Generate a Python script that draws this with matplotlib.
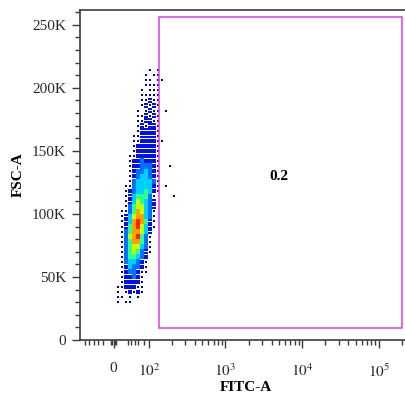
import numpy as np
import matplotlib
matplotlib.use("Agg")
import matplotlib.pyplot as plt
from matplotlib.colors import ListedColormap, BoundaryNorm

plt.rcParams['font.family'] = ['Liberation Serif', 'DejaVu Serif']
plt.rcParams['mathtext.fontset'] = 'stix'

# Event density: one row per 4K of FSC-A (top = 216K),
# one column per equal step of the FITC-A display scale; '.' = no events,
# 1 = sparse, 2 = dense blue ... 8 = red core
density_rows = [
    ".............1.1....",
    "............1.11....",
    "............11.11...",
    "............1111....",
    "...........1.111....",
    "...........11111....",
    "...........11211....",
    "...........12121....",
    "..........1.1211.1..",
    "..........112121....",
    "..........112211....",
    "..........121221....",
    "..........122221....",
    ".........1122221....",
    ".........11222211...",
    ".........1222221....",
    ".........1222221....",
    "........11222221....",
    "........12232221....",
    "........12233321..1.",
    "........12334321....",
    "........12344321....",
    "........13444431....",
    ".......113444421.1..",
    ".......123445421....",
    ".......12455531....1",
    ".......12465432.....",
    ".......13566432.....",
    "......113576431.....",
    "......124677431.....",
    "......124787521.....",
    "......125786421.....",
    "......13577642......",
    "......13678531......",
    "......13577531......",
    "......13566431......",
    "......13565321......",
    "......1355432.......",
    "......1344321.......",
    "......1243321.......",
    "......1233211.......",
    "......122321........",
    "......122221........",
    ".....1122211........",
    ".....1.12121........",
    ".....11.1.1.........",
    ".....1.11...........",
]
fsc_top = 216000      # upper edge of first density row
fsc_step = 4000
fitc_lo, fitc_hi = -50, 226   # FITC-A span of the density columns

level_colors = ['#0000b4', '#0010f0', '#0070ff', '#00d0ff', '#30ff90',
                '#c8ff00', '#ffa000', '#ff2000']

gate_x = (135, 200000)
gate_y = (9500, 256000)
gate_label = "0.2"

x_major = [0, 100, 1000, 10000, 100000]
x_major_labels = ["0", "$10^2$", "$10^3$", "$10^4$", "$10^5$"]
x_minor_low = [-80, -70, -55, -45, -30, -6, -3, 3, 6, 40, 50, 60, 70, 85]
y_major = [0, 50000, 100000, 150000, 200000, 250000]
y_major_labels = ["0", "50K", "100K", "150K", "200K", "250K"]

fig = plt.figure(figsize=(4.06, 3.96), dpi=100)
ax = fig.add_axes([80 / 406, 56 / 396, 331 / 406, 330.5 / 396])
ax.set_xscale('symlog', linthresh=100, linscale=0.414)
ax.set_xlim(-95, 262144)
ax.set_ylim(0, 262144)

# density grid
grid = np.array([[0 if c == '.' else int(c) for c in row.ljust(20, '.')]
                 for row in density_rows])[::-1]
nrows, ncols = grid.shape
tr = ax.xaxis.get_transform()
inv = tr.inverted()
t_edges = np.linspace(tr.transform([fitc_lo])[0], tr.transform([fitc_hi])[0], ncols + 1)
x_edges = inv.transform(t_edges)
y_edges = fsc_top - fsc_step * nrows + fsc_step * np.arange(nrows + 1)

cmap = ListedColormap(level_colors)
norm = BoundaryNorm(np.arange(0.5, 9.5, 1), cmap.N)
dense = np.ma.masked_less(grid, 3)
ax.pcolormesh(x_edges, y_edges, dense, cmap=cmap, norm=norm, zorder=2)

t_mid = (t_edges[:-1] + t_edges[1:]) / 2
dt = t_edges[1] - t_edges[0]
y_mid = (y_edges[:-1] + y_edges[1:]) / 2

# sparse cells: one dot each
ri, ci = np.nonzero(grid == 1)
ax.scatter(inv.transform(t_mid[ci]), y_mid[ri], s=2.5, marker='s',
           color=level_colors[0], linewidths=0, zorder=2)
# dense blue cells: four dots each
ri, ci = np.nonzero(grid == 2)
for ox in (-0.25, 0.25):
    for oy in (-0.25, 0.25):
        ax.scatter(inv.transform(t_mid[ci] + ox * dt), y_mid[ri] + oy * fsc_step,
                   s=2, marker='s', color=level_colors[1], linewidths=0,
                   zorder=2)

# gate
ax.add_patch(plt.Rectangle((gate_x[0], gate_y[0]), gate_x[1] - gate_x[0],
                           gate_y[1] - gate_y[0], fill=False,
                           edgecolor='#e03ce0', linewidth=1.1, zorder=3))
ax.text(5000, 130000, gate_label, fontsize=11, fontweight='bold',
        ha='center', va='center')

# axes styling
spine_col = '#3c3c3c'
for s in ['left', 'bottom', 'top']:
    ax.spines[s].set_color(spine_col)
    ax.spines[s].set_linewidth(1.2)
ax.spines['right'].set_visible(False)

ax.set_xticks(x_major)
ax.set_xticklabels(x_major_labels)
x_minor = list(x_minor_low)
for dec in [100, 1000, 10000, 100000]:
    x_minor += [dec * k for k in range(2, 10) if dec * k < 262144]
ax.set_xticks(x_minor, minor=True)
ax.set_yticks(y_major)
ax.set_yticklabels(y_major_labels)
ax.set_yticks(np.arange(0, 262144, 10000), minor=True)

ax.tick_params(axis='both', which='major', direction='out', length=6, width=1,
               color=spine_col, labelsize=11, labelcolor='#2a2a2a')
ax.tick_params(axis='both', which='minor', direction='out', length=3.5, width=1,
               color=spine_col)
ax.tick_params(axis='x', which='major', pad=10)
ax.tick_params(axis='y', which='major', pad=4)

ax.set_xlabel("FITC-A", fontsize=11, fontweight='bold', labelpad=1)
ax.set_ylabel("FSC-A", fontsize=11, fontweight='bold', labelpad=5)

fig.savefig("out.png", dpi=100)
